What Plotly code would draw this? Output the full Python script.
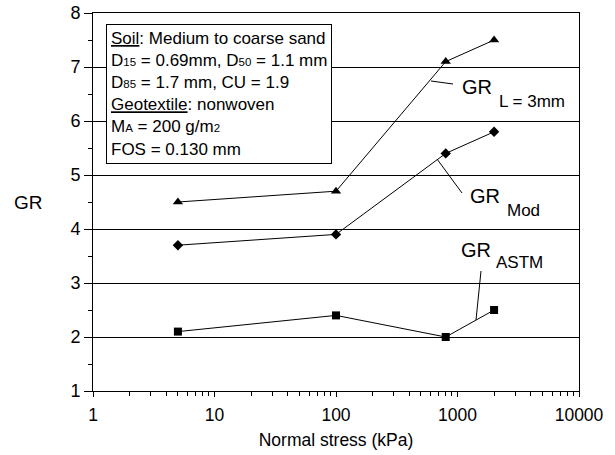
import plotly.graph_objects as go

# Normal stress levels (kPa)
stress = [5, 100, 800, 2000]

# Gradient ratio series
gr_l3mm = [4.5, 4.7, 7.1, 7.5]
gr_mod = [3.7, 3.9, 5.4, 5.8]
gr_astm = [2.1, 2.4, 2.0, 2.5]

x_ticks = [1, 10, 100, 1000, 10000]
x_minor = [k * 10 ** d for d in range(4) for k in range(2, 10)]
y_ticks = [1, 2, 3, 4, 5, 6, 7, 8]

FONT = "Liberation Sans, Arial, sans-serif"
W, H = 615, 455
L, R, T, B = 93, 36, 13, 64
PW, PH = W - L - R, H - T - B


def px(x, y):
    """Convert canvas pixel position to paper coordinates."""
    return (x - L) / PW, (H - B - y) / PH


fig = go.Figure()

series = [
    (gr_l3mm, "triangle-up", 9),
    (gr_mod, "diamond", 8),
    (gr_astm, "square", 8),
]
for vals, sym, size in series:
    fig.add_trace(go.Scatter(
        x=stress, y=vals, mode="lines+markers",
        line=dict(color="black", width=1),
        marker=dict(symbol=sym, size=size, color="black"),
        showlegend=False,
    ))

# Leader lines from curves to their labels
leaders = [((431, 81), (453, 84)), ((437, 159), (462, 193)), ((481, 271), (476, 320))]
for (x0, y0), (x1, y1) in leaders:
    a0, b0 = px(x0, y0)
    a1, b1 = px(x1, y1)
    fig.add_shape(type="line", xref="paper", yref="paper",
                  x0=a0, y0=b0, x1=a1, y1=b1,
                  line=dict(color="black", width=1))

# Curve labels: "GR" plus lowered subscript text
labels = [
    ((460, 87), (497, 101), "L = 3mm"),
    ((468, 196), (505, 210), "Mod"),
    ((459, 250), (494, 262), "ASTM"),
]
for (gx, gy), (sx, sy), sub in labels:
    a, b = px(gx, gy)
    fig.add_annotation(xref="paper", yref="paper", x=a, y=b, text="GR",
                       showarrow=False, xanchor="left", yanchor="middle",
                       font=dict(family=FONT, size=20, color="black"))
    a, b = px(sx, sy)
    fig.add_annotation(xref="paper", yref="paper", x=a, y=b, text=sub,
                       showarrow=False, xanchor="left", yanchor="middle",
                       font=dict(family=FONT, size=17, color="black"))

# Test-condition box
sm = "<span style='font-size:11.5px'>{}</span>"
box_text = (
    "<u>Soil</u>: Medium to coarse sand<br>"
    f"D{sm.format('15')} = 0.69mm, D{sm.format('50')} = 1.1 mm<br>"
    f"D{sm.format('85')} = 1.7 mm, CU = 1.9<br>"
    "<u>Geotextile</u>: nonwoven<br>"
    f"M{sm.format('A')} = 200 g/m{sm.format('2')}<br>"
    "FOS = 0.130 mm"
)
a, b = px(106, 24)
fig.add_annotation(xref="paper", yref="paper", x=a, y=b, text=box_text,
                   showarrow=False, xanchor="left", yanchor="top", align="left",
                   bordercolor="black", borderwidth=1, borderpad=4, bgcolor="white",
                   font=dict(family=FONT, size=17, color="black"))

# Y-axis label, horizontal
a, b = px(28, 202)
fig.add_annotation(xref="paper", yref="paper", x=a, y=b, text="GR",
                   showarrow=False, xanchor="center", yanchor="middle",
                   font=dict(family=FONT, size=19, color="black"))

fig.update_xaxes(
    type="log", range=[0, 4], automargin=False,
    tickvals=x_ticks, ticktext=[str(v) for v in x_ticks],
    ticks="outside", ticklen=5, tickcolor="black", ticklabelstandoff=3,
    minor=dict(ticks="outside", ticklen=4, tickcolor="black",
               tickmode="array", tickvals=x_minor, showgrid=False),
    showline=True, linecolor="black", linewidth=1, mirror=True,
    showgrid=False, zeroline=False,
    tickfont=dict(family=FONT, size=17.5, color="black"),
    title=dict(text="Normal stress (kPa)", standoff=9,
               font=dict(family=FONT, size=17.5, color="black")),
)
fig.update_yaxes(
    range=[1, 8], tickvals=y_ticks, automargin=False,
    ticks="outside", ticklen=8, tickcolor="black",
    minor=dict(ticks="outside", ticklen=4, tickcolor="black", dtick=0.5, showgrid=False),
    showline=True, linecolor="black", linewidth=1, mirror=True,
    showgrid=True, gridcolor="black", gridwidth=1, zeroline=False,
    tickfont=dict(family=FONT, size=18, color="black"),
)

fig.update_layout(
    width=W, height=H,
    margin=dict(l=L, r=R, t=T, b=B, autoexpand=False),
    plot_bgcolor="white", paper_bgcolor="white",
)

fig.write_html("out.html")
